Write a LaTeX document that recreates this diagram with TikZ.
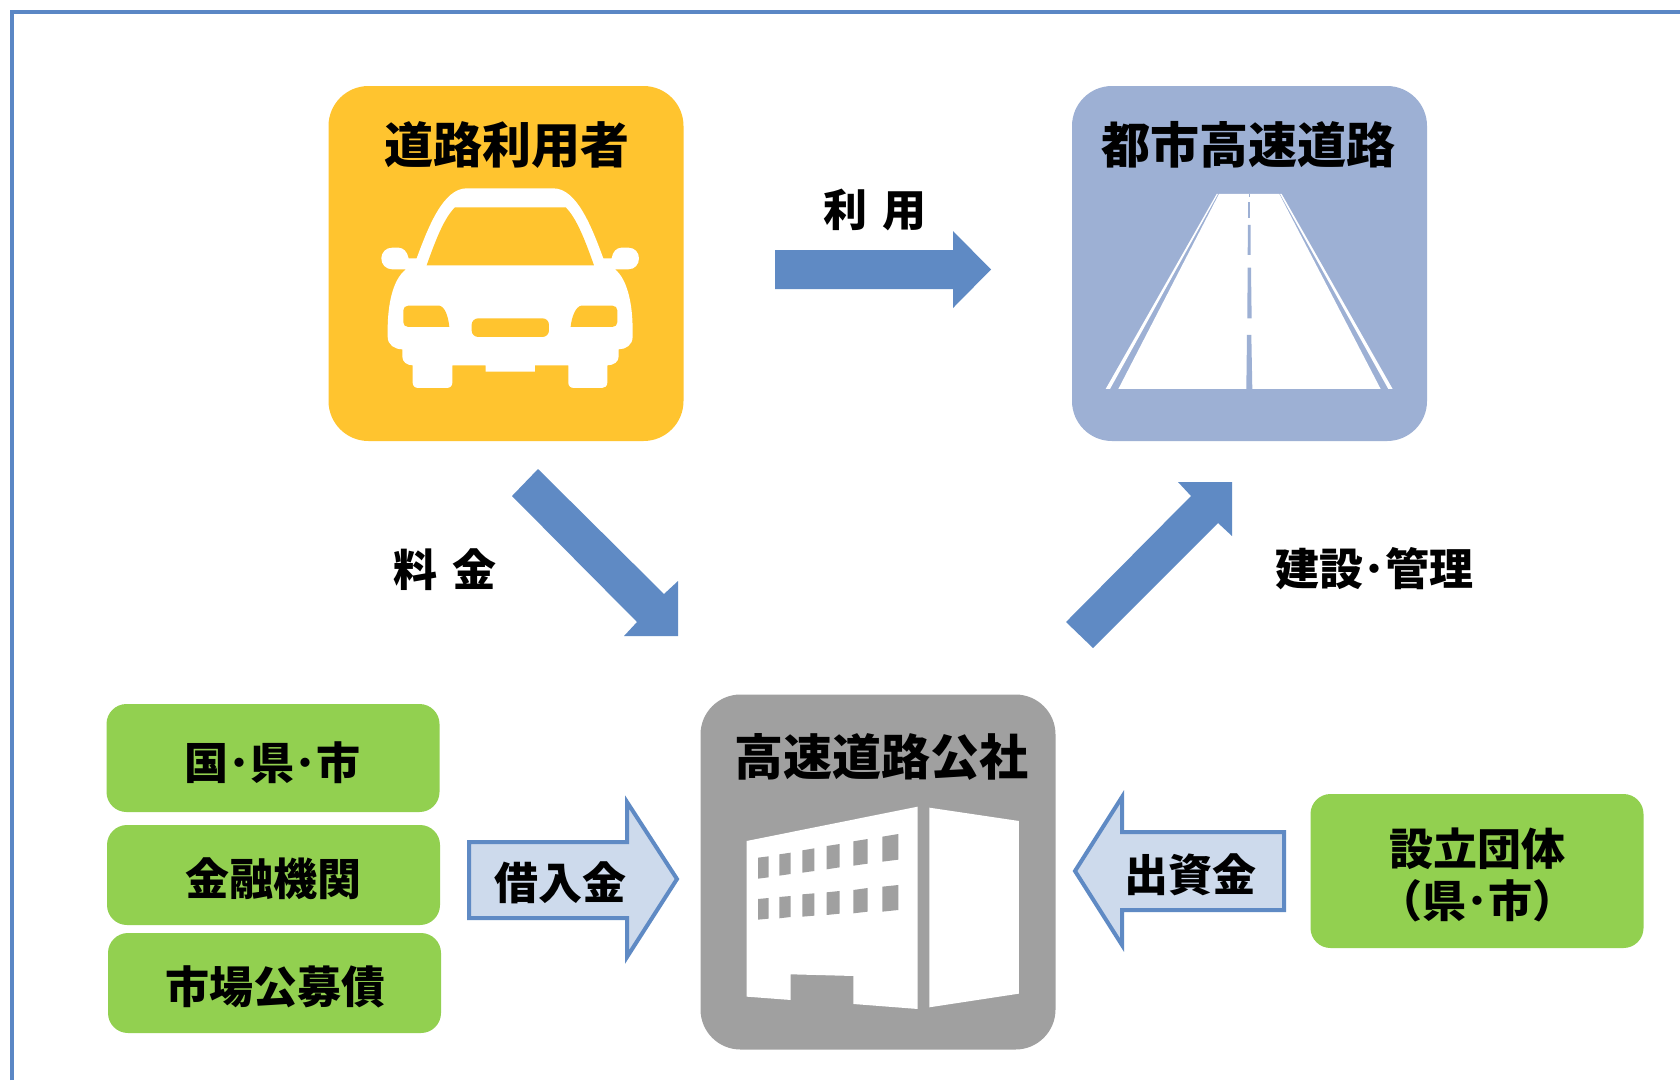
\documentclass[tikz,border=0pt]{standalone}
\usepackage{fontspec}
\setmainfont{Noto Sans CJK JP}
\definecolor{frameblue}{HTML}{5B87C5}
\definecolor{arrowblue}{HTML}{5F8AC4}
\definecolor{lightfill}{HTML}{CDDAEC}
\definecolor{cyellow}{HTML}{FFC42F}
\definecolor{cblue}{HTML}{9DB0D4}
\definecolor{cgray}{HTML}{A0A0A0}
\definecolor{cgreen}{HTML}{92D050}
\tikzset{
  bigbox/.style={rectangle,rounded corners=40pt,minimum width=355pt,minimum height=355pt,inner sep=0pt},
  greenbox/.style={rectangle,rounded corners=20pt,fill=cgreen,minimum width=333pt,inner sep=0pt},
  title/.style={inner sep=0pt,font=\fontsize{49}{55}\selectfont\bfseries},
  label/.style={inner sep=0pt,font=\fontsize{44}{52}\selectfont\bfseries,align=center},
  solidarrow/.style={fill=arrowblue},
  outlinearrow/.style={fill=lightfill,draw=arrowblue,line width=4pt,line join=miter},
  iconscope/.style={x=0.3333pt,y=-0.3333pt},
}
\begin{document}
\begin{tikzpicture}[x=1pt,y=-1pt]
\useasboundingbox (0,0) rectangle (1680,1080);
\fill[white] (0,0) rectangle (1680,1080);
\draw[frameblue,line width=4pt] (12,1080) -- (12,12) -- (1680,12);

% main boxes
\node[bigbox,fill=cyellow] (user) at (506,263.5) {};
\node[bigbox,fill=cblue] (road) at (1249.5,263.5) {};
\node[bigbox,fill=cgray] (corp) at (878,872) {};

% car
\begin{scope}[shift={(320,80)},iconscope]
\fill[white] (440,325) -- (700,325) .. controls (770,325) and (815,440) .. (850,535)
  -- (875,535) .. controls (878,515) and (890,503) .. (905,503) -- (925,503)
  .. controls (945,503) and (957,518) .. (957,535) .. controls (957,553) and (945,568) .. (925,568) -- (885,568)
  .. controls (925,600) and (938,680) .. (938,750) -- (938,770)
  .. controls (938,795) and (918,808) .. (896,808) -- (896,830)
  .. controls (896,845) and (882,856) .. (862,856) -- (862,908)
  .. controls (862,918) and (855,924) .. (846,924) -- (762,924)
  .. controls (752,924) and (745,918) .. (745,908) -- (745,856) -- (645,856) -- (645,875) -- (497,875) -- (497,856) -- (397,856) -- (397,908)
  .. controls (397,918) and (390,924) .. (380,924) -- (295,924)
  .. controls (285,924) and (278,918) .. (278,908) -- (278,856)
  .. controls (260,856) and (247,845) .. (247,830) -- (247,808)
  .. controls (224,808) and (203,795) .. (203,770) -- (203,750)
  .. controls (203,680) and (216,600) .. (258,568) -- (217,568)
  .. controls (197,568) and (184,553) .. (184,535) .. controls (184,518) and (197,503) .. (217,503) -- (235,503)
  .. controls (250,503) and (262,515) .. (266,535) -- (290,535)
  .. controls (325,440) and (370,325) .. (440,325) -- cycle;
\fill[cyellow] (405,382) -- (737,382) .. controls (770,415) and (795,480) .. (822,556) -- (320,556) .. controls (347,480) and (372,415) .. (405,382) -- cycle;
\fill[cyellow] (265,677) -- (358,677) .. controls (375,680) and (385,710) .. (388,741) -- (265,741) .. controls (256,741) and (250,735) .. (250,727) -- (250,691) .. controls (250,683) and (256,677) .. (265,677) -- cycle;
\fill[cyellow] (784,677) -- (877,677) .. controls (886,677) and (892,683) .. (892,691) -- (892,727) .. controls (892,735) and (886,741) .. (877,741) -- (752,741) .. controls (755,710) and (767,680) .. (784,677) -- cycle;
\fill[cyellow,rounded corners=6.5pt] (455,715) rectangle (687,771);
\end{scope}

% road
\begin{scope}[shift={(1060,80)},iconscope]
\fill[white] (477,342) -- (658,342) -- (962,927) -- (175,927) -- cycle;
\fill[white] (470,342) -- (474,342) -- (150,927) -- (137,927) -- cycle;
\fill[white] (660,342) -- (665,342) -- (998,927) -- (985,927) -- cycle;
\fill[cblue] (566,342) -- (570,342) -- (570,352) -- (566,352) -- cycle;
\fill[cblue] (565,365) -- (571,365) -- (571,413) -- (565,413) -- cycle;
\fill[cblue] (564,435) -- (572,435) -- (572,525) -- (563,525) -- cycle;
\fill[cblue] (563,563) -- (573,563) -- (575,715) -- (562,715) -- cycle;
\fill[cblue] (561,765) -- (574,765) -- (577,927) -- (559,927) -- cycle;
\end{scope}

% building
\begin{scope}[shift={(690,690)},iconscope]
\fill[white] (170,453) -- (683,350) -- (683,957) -- (490,942) -- (490,858) -- (302,853) -- (302,930) -- (170,920) -- cycle;
\fill[white] (718,353) -- (987,393) -- (987,911) -- (718,952) -- cycle;
\fill[cgray] (204,503) -- (236,499) -- (236,562) -- (204,566) -- cycle;
\fill[cgray] (268,493) -- (302,488) -- (302,552) -- (268,557) -- cycle;
\fill[cgray] (337,481) -- (373,475) -- (373,543) -- (337,548) -- cycle;
\fill[cgray] (410,468) -- (449,462) -- (449,532) -- (410,538) -- cycle;
\fill[cgray] (490,454) -- (533,447) -- (533,521) -- (490,527) -- cycle;
\fill[cgray] (577,440) -- (625,432) -- (625,509) -- (577,515) -- cycle;
\fill[cgray] (204,627) -- (236,624) -- (236,686) -- (204,689) -- cycle;
\fill[cgray] (268,621) -- (302,618) -- (302,681) -- (268,685) -- cycle;
\fill[cgray] (337,613) -- (373,610) -- (373,677) -- (337,680) -- cycle;
\fill[cgray] (410,607) -- (449,603) -- (449,671) -- (410,675) -- cycle;
\fill[cgray] (490,600) -- (533,594) -- (533,665) -- (490,670) -- cycle;
\fill[cgray] (577,590) -- (625,585) -- (625,660) -- (577,665) -- cycle;
\end{scope}

% titles
\node[title] (t1) at (507,145) {道路利用者};
\node[title] (t2) at (1248,145) {都市高速道路};
\node[title] (t3) at (881,757) {高速道路公社};

% solid arrows
\fill[solidarrow] (775,250) -- (953,250) -- (953,231) -- (991,269.5) -- (953,308) -- (953,289) -- (775,289) -- cycle;
\fill[solidarrow] (538,469) -- (664,594) -- (678,581) -- (678,636) -- (624,636) -- (637,622) -- (512,496) -- cycle;
\fill[solidarrow] (1066,622) -- (1191,496) -- (1178,482) -- (1232,482) -- (1232,536) -- (1218,523) -- (1093,648) -- cycle;

% outline arrows
\draw[outlinearrow] (469,842) -- (627,842) -- (627,802) -- (677,879) -- (627,957) -- (627,918) -- (469,918) -- cycle;
\draw[outlinearrow] (1284,832) -- (1122,832) -- (1122,797) -- (1075,871) -- (1122,945) -- (1122,910) -- (1284,910) -- cycle;

% green boxes
\node[greenbox,minimum height=108pt] (g1) at (273,758) {};
\node[greenbox,minimum height=100pt] (g2) at (273.5,875) {};
\node[greenbox,minimum height=100pt] (g3) at (274.5,983) {};
\node[greenbox,minimum height=154pt] (g4) at (1477,871) {};

% labels
\node[label] (l1) at (272,763) {国･県･市};
\node[label] (l2) at (273,879) {金融機関};
\node[label] (l3) at (275,987) {市場公募債};
\node[label] (l4) at (1477,875) {設立団体\\（県･市）};
\node[label] (l5) at (560,883) {借入金};
\node[label] (l6) at (1190,875) {出資金};
\node[label] (l7) at (875,210) {利\hspace{0.32em}用};
\node[label] (l8) at (445,570) {料\hspace{0.32em}金};
\node[label] (l9) at (1374,569) {建設･管理};
\end{tikzpicture}
\end{document}
